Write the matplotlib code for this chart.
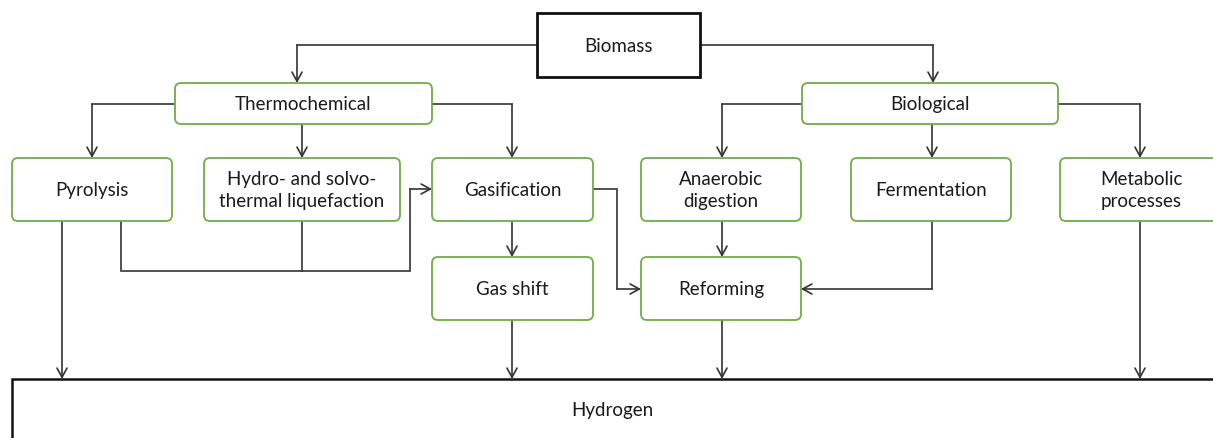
import matplotlib.pyplot as plt
from matplotlib.patches import FancyBboxPatch, Rectangle

# node labels
root_label = "Biomass"
sink_label = "Hydrogen"
route_labels = ["Thermochemical", "Biological"]
process_labels = ["Pyrolysis", "Hydro- and solvo-\nthermal liquefaction", "Gasification",
                  "Anaerobic\ndigestion", "Fermentation", "Metabolic\nprocesses"]
upgrade_labels = ["Gas shift", "Reforming"]

# layout in pixel space (x0, y0, x1, y1), y grows downward
layout = {
    "Thermochemical": (175, 84, 432, 125),
    "Biological": (802, 84, 1058, 125),
    "Pyrolysis": (12, 159, 172, 222),
    "Hydro- and solvo-\nthermal liquefaction": (204, 159, 400, 222),
    "Gasification": (432, 159, 593, 222),
    "Anaerobic\ndigestion": (641, 159, 801, 222),
    "Fermentation": (851, 159, 1011, 222),
    "Metabolic\nprocesses": (1060, 159, 1222, 222),
    "Gas shift": (432, 258, 593, 321),
    "Reforming": (641, 258, 801, 321),
}

GREEN = "#70AD47"
LINE = "#333333"
plt.rcParams["font.family"] = ["Lato", "DejaVu Sans"]

fig = plt.figure(figsize=(12.13, 4.39), dpi=100)
ax = fig.add_axes([0, 0, 1, 1])
ax.set_xlim(0, 1213)
ax.set_ylim(439, 0)
ax.axis("off")

FS = 13.5


def green_box(label):
    x0, y0, x1, y1 = layout[label]
    ax.add_patch(FancyBboxPatch((x0, y0), x1 - x0, y1 - y0,
                                boxstyle="round,pad=0,rounding_size=6",
                                fc="white", ec=GREEN, lw=1.3, zorder=3))
    ax.text((x0 + x1) / 2, (y0 + y1) / 2, label, ha="center", va="center",
            fontsize=FS, color="#1a1a1a", linespacing=1.3, zorder=4)


def connector(points):
    xs = [p[0] for p in points]
    ys = [p[1] for p in points]
    ax.plot(xs[:-1], ys[:-1], color=LINE, lw=1.2, zorder=2, solid_joinstyle="miter")
    ax.annotate("", xy=points[-1], xytext=points[-2],
                arrowprops=dict(arrowstyle="->,head_length=0.55,head_width=0.3",
                                color=LINE, lw=1.2, shrinkA=0, shrinkB=0,
                                mutation_scale=12), zorder=2)


def line(points):
    ax.plot([p[0] for p in points], [p[1] for p in points], color=LINE, lw=1.2,
            zorder=2, solid_joinstyle="miter")


# root and sink
ax.add_patch(Rectangle((537, 14), 163, 64, fc="white", ec="#111111", lw=2, zorder=3))
ax.text(618, 46, root_label, ha="center", va="center", fontsize=FS, color="#1a1a1a", zorder=4)
ax.add_patch(Rectangle((12, 380), 1230, 80, fc="white", ec="#111111", lw=1.8, zorder=3))
ax.text(612, 411, sink_label, ha="center", va="center", fontsize=FS, color="#1a1a1a", zorder=4)

for lab in route_labels + process_labels + upgrade_labels:
    green_box(lab)

# Biomass -> routes
connector([(537, 46), (297, 46), (297, 84)])
connector([(700, 46), (933, 46), (933, 84)])

# Thermochemical -> processes
connector([(175, 105), (92, 105), (92, 159)])
connector([(302, 125), (302, 159)])
connector([(432, 105), (512, 105), (512, 159)])

# Biological -> processes
connector([(802, 105), (722, 105), (722, 159)])
connector([(932, 125), (932, 159)])
connector([(1058, 105), (1140, 105), (1140, 159)])

# Pyrolysis / liquefaction -> gasification
line([(302, 222), (302, 272)])
connector([(121, 222), (121, 272), (410, 272), (410, 190), (432, 190)])

# Gasification -> gas shift / reforming
connector([(512, 222), (512, 258)])
connector([(593, 190), (617, 190), (617, 290), (641, 290)])

# biological -> reforming
connector([(722, 222), (722, 258)])
connector([(932, 222), (932, 290), (801, 290)])

# to hydrogen
connector([(62, 222), (62, 380)])
connector([(512, 321), (512, 380)])
connector([(722, 321), (722, 380)])
connector([(1140, 222), (1140, 380)])

fig.savefig("out.png", dpi=100)
plt.close(fig)
